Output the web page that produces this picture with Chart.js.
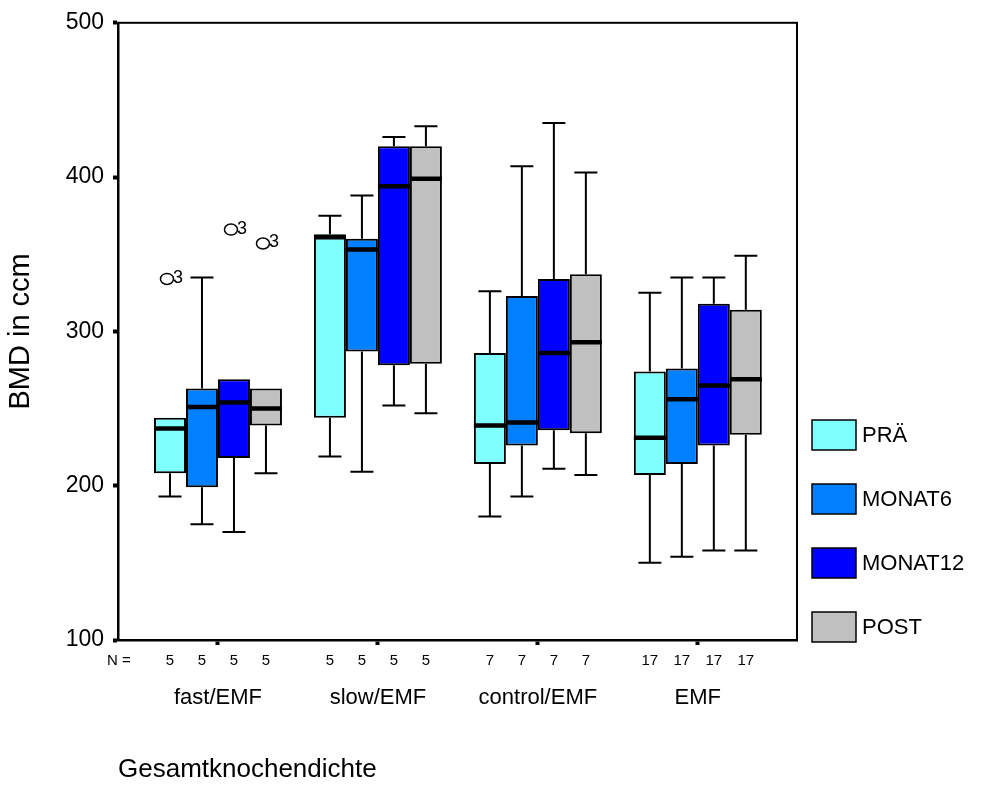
<!DOCTYPE html>
<html>
<head>
<meta charset="utf-8">
<script src="https://cdn.jsdelivr.net/npm/chart.js@4/dist/chart.umd.min.js"></script>
<style>
  body { margin: 0; background: #fff; }
  canvas { display: block; }
</style>
</head>
<body>
<canvas id="box-graph" width="983" height="787"></canvas>
<script>
// groups on the x axis and the N under each box
const groups = ['fast/EMF', 'slow/EMF', 'control/EMF', 'EMF'];
const nCounts = [5, 5, 7, 17];
const series = ['PRÄ', 'MONAT6', 'MONAT12', 'POST'];
const colors = ['#80FFFF', '#0080FF', '#0000FF', '#C0C0C0'];

// one row per series, one value per group (fast, slow, control, EMF)
const whiskerLow = [
    [193, 219, 180, 150],
    [175, 209, 193, 154],
    [170, 252, 211, 158],
    [208, 247, 207, 158],
];
const q1 = [
    [208, 244, 214, 207],
    [199, 287, 226, 214],
    [218, 278, 236, 226],
    [239, 279, 234, 233],
];
const median = [
    [237, 361, 239, 231],
    [251, 353, 241, 256],
    [254, 394, 286, 265],
    [250, 399, 293, 269],
];
const q3 = [
    [244, 363, 286, 274],
    [263, 360, 323, 276],
    [269, 420, 334, 318],
    [263, 420, 337, 314],
];
const whiskerHigh = [
    [244, 375, 326, 325],
    [335, 388, 407, 335],
    [269, 426, 435, 335],
    [263, 433, 403, 349],
];

// outliers: series index, group index, value, case label
const outSeries = [0, 2, 3];
const outGroup = [0, 0, 0];
const outValue = [334, 366, 357];
const outLabel = ['3', '3', '3'];

const yTicks = [100, 200, 300, 400, 500];

const FONT = "'Liberation Sans', Arial, sans-serif";

const datasets = series.map((name, s) => ({
    label: name,
    data: groups.map((g, i) => ({ x: i, y: [q1[s][i], q3[s][i]] })),
    backgroundColor: colors[s],
    borderColor: '#000',
    borderWidth: 2,
    borderSkipped: false,
    categoryPercentage: 0.8,
    barPercentage: 1.0,
}));

// whiskers, medians, outliers, N row, legend and frame
const boxExtras = {
    id: 'boxExtras',
    afterDatasetsDraw(chart) {
        const ctx = chart.ctx;
        const y = chart.scales.y;
        const area = chart.chartArea;
        ctx.save();
        ctx.strokeStyle = '#000';
        chart.data.datasets.forEach((ds, s) => {
            const meta = chart.getDatasetMeta(s);
            meta.data.forEach((bar, i) => {
                const cx = bar.x;
                const w = bar.width;
                const cap = w * 0.36;
                const yLo = y.getPixelForValue(whiskerLow[s][i]);
                const yHi = y.getPixelForValue(whiskerHigh[s][i]);
                const yQ1 = y.getPixelForValue(q1[s][i]);
                const yQ3 = y.getPixelForValue(q3[s][i]);
                ctx.lineWidth = 2;
                ctx.beginPath();
                if (yHi < yQ3 - 1) {
                    ctx.moveTo(cx, yQ3); ctx.lineTo(cx, yHi);
                    ctx.moveTo(cx - cap, yHi); ctx.lineTo(cx + cap, yHi);
                }
                if (yLo > yQ1 + 1) {
                    ctx.moveTo(cx, yQ1); ctx.lineTo(cx, yLo);
                    ctx.moveTo(cx - cap, yLo); ctx.lineTo(cx + cap, yLo);
                }
                ctx.stroke();
                // median
                const yMed = y.getPixelForValue(median[s][i]);
                ctx.lineWidth = 4.5;
                ctx.beginPath();
                ctx.moveTo(cx - w / 2, yMed);
                ctx.lineTo(cx + w / 2, yMed);
                ctx.stroke();
            });
        });

        // outliers
        ctx.font = '18px ' + FONT;
        ctx.textBaseline = 'middle';
        ctx.textAlign = 'left';
        ctx.fillStyle = '#000';
        ctx.lineWidth = 1.5;
        outValue.forEach((v, k) => {
            const bar = chart.getDatasetMeta(outSeries[k]).data[outGroup[k]];
            const cx = bar.x - 3;
            const cy = y.getPixelForValue(v);
            ctx.beginPath();
            ctx.ellipse(cx, cy, 6.5, 5.5, 0, 0, Math.PI * 2);
            ctx.stroke();
            ctx.fillText(outLabel[k], cx + 6, cy - 1);
        });

        // N row
        ctx.font = '15px ' + FONT;
        ctx.textAlign = 'left';
        ctx.fillText('N =', area.left - 11, area.bottom + 21);
        ctx.textAlign = 'center';
        chart.data.datasets.forEach((ds, s) => {
            chart.getDatasetMeta(s).data.forEach((bar, i) => {
                ctx.fillText(String(nCounts[i]), bar.x, area.bottom + 21);
            });
        });

        // frame
        ctx.lineWidth = 2;
        ctx.strokeRect(area.left, area.top, area.right - area.left, area.bottom - area.top);

        // legend
        ctx.font = '22px ' + FONT;
        ctx.textAlign = 'left';
        chart.data.datasets.forEach((ds, s) => {
            const top = area.bottom + 2 - 30 - (series.length - 1 - s) * 64;
            const left = area.right + 15;
            ctx.fillStyle = ds.backgroundColor;
            ctx.fillRect(left, top, 44, 30);
            ctx.lineWidth = 1.5;
            ctx.strokeRect(left, top, 44, 30);
            ctx.fillStyle = '#000';
            ctx.fillText(ds.label, left + 50, top + 16);
        });
        ctx.restore();
    }
};

const canvas = document.getElementById('box-graph');
const box_graph = new Chart(canvas, {
    type: 'bar',
    data: { datasets: datasets },
    options: {
        responsive: false,
        animation: false,
        devicePixelRatio: 1,
        layout: { padding: { top: 21, right: 186, left: 0, bottom: 0 } },
        plugins: {
            legend: { display: false },
            tooltip: { enabled: false },
        },
        scales: {
            x: {
                type: 'linear',
                offset: false,
                min: -0.625,
                max: 3.62,
                afterBuildTicks: (scale) => {
                    scale.ticks = groups.map((g, i) => ({ value: i }));
                },
                afterFit: (scale) => { scale.height = 147; },
                grid: { drawOnChartArea: false, offset: false, tickLength: 5, tickWidth: 4, tickColor: '#000' },
                border: { color: '#000', width: 2.5 },
                ticks: {
                    autoSkip: false,
                    maxRotation: 0,
                    padding: 40,
                    color: '#000',
                    font: { family: FONT, size: 22 },
                    callback: (v) => groups[v],
                },
                title: {
                    display: true,
                    text: 'Gesamtknochendichte',
                    align: 'start',
                    color: '#000',
                    font: { family: FONT, size: 26, lineHeight: 1 },
                    padding: { top: 0, bottom: 4 },
                },
            },
            y: {
                min: 100,
                max: 500,
                afterBuildTicks: (scale) => {
                    scale.ticks = yTicks.map(v => ({ value: v }));
                },
                afterFit: (scale) => { scale.width = 118; },
                grid: { drawOnChartArea: false, tickLength: 5, tickWidth: 4, tickColor: '#000' },
                border: { color: '#000', width: 2.5 },
                ticks: {
                    padding: 9,
                    color: '#000',
                    font: { family: FONT, size: 23 },
                },
                title: {
                    display: true,
                    text: 'BMD in ccm',
                    color: '#000',
                    font: { family: FONT, size: 29, lineHeight: 1 },
                    padding: { top: 6, bottom: 0 },
                },
            },
        },
    },
    plugins: [boxExtras],
});
</script>
</body>
</html>
